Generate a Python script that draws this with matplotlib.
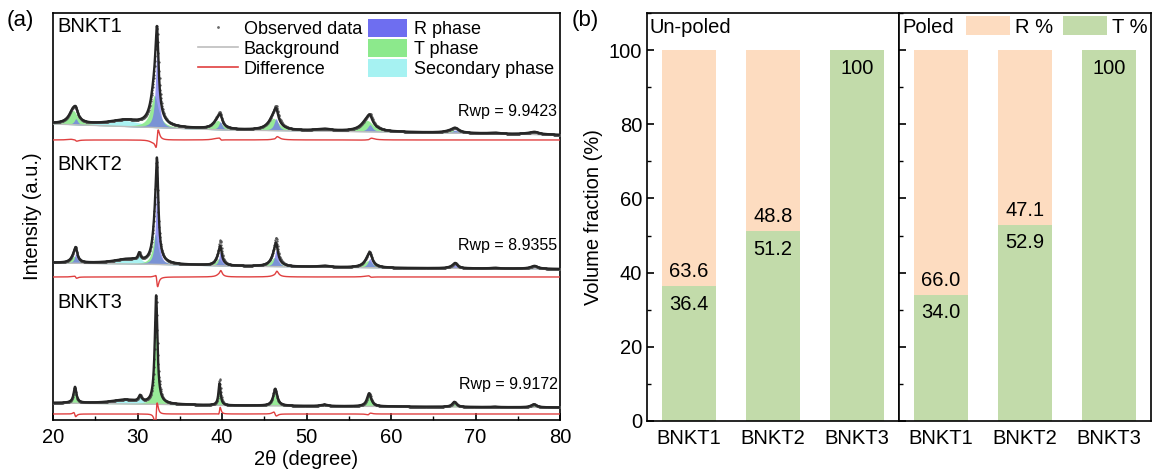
import numpy as np
import matplotlib.pyplot as plt
from matplotlib.lines import Line2D
from matplotlib.patches import Patch
from matplotlib.ticker import MultipleLocator

plt.rcParams['font.family'] = ['Liberation Sans', 'DejaVu Sans']
plt.rcParams['axes.linewidth'] = 1.2

# ---------------- (a) Rietveld refinement, peak tables ----------------
# perovskite reflections (2theta, deg)
PEAK_POS = [22.7, 32.3, 39.8, 46.4, 52.2, 57.5, 67.6, 72.4, 77.0]

# peak heights above background for R and T phase, FWHM of the R peaks,
# and how the observed peaks deviate from the fit (shift in deg, height ratio)
BNKT1_R = [6, 75, 8, 12, 0.8, 7, 3, 0.5, 1.5]
BNKT1_T = [14, 32, 9, 12, 1.2, 11, 2.5, 0.5, 1.2]
BNKT1_FWHM = [0.5, 0.45, 0.5, 0.6, 1.2, 0.7, 0.8, 0.8, 1.0]
BNKT1_OBS_SHIFT = [-0.04, 0.04, -0.04, 0.04, 0.0, 0.05, 0.0, 0.0, 0.0]
BNKT1_OBS_GAIN = [1.0, 1.0, 1.1, 1.1, 1.0, 1.05, 1.0, 1.0, 1.0]

BNKT2_R = [10, 82, 14, 16, 0.6, 9, 4, 0.4, 2.0]
BNKT2_T = [7, 30, 7, 9, 0.8, 7, 1.5, 0.4, 1.0]
BNKT2_FWHM = [0.4, 0.38, 0.4, 0.5, 0.9, 0.6, 0.6, 0.7, 0.8]
BNKT2_OBS_SHIFT = [-0.03, -0.02, 0.02, 0.03, 0.0, -0.03, 0.0, 0.0, 0.0]
BNKT2_OBS_GAIN = [1.0, 0.96, 1.3, 1.2, 1.0, 1.05, 1.0, 1.0, 1.0]

BNKT3_R = [0, 0, 0, 0, 0, 0, 0, 0, 0]
BNKT3_T = [16, 108, 22, 17, 1.5, 13, 5, 0.5, 3.0]
BNKT3_FWHM = [0.4, 0.38, 0.3, 0.55, 0.9, 0.6, 0.6, 0.7, 0.8]
BNKT3_OBS_SHIFT = [-0.04, 0.03, 0.03, -0.05, 0.0, 0.03, 0.0, 0.0, 0.0]
BNKT3_OBS_GAIN = [0.95, 1.0, 1.2, 1.0, 1.0, 1.0, 1.0, 1.0, 1.0]

# T phase: shift (deg) and broadening relative to R peaks
T_SHIFT = [-0.3, -0.2, -0.1]
T_BROAD = [2.4, 2.0, 1.0]

# secondary phase: broad hump (centre, height, fwhm) + small reflection (centre, height, fwhm)
SEC_HUMP = [(28.5, 6.0, 5.0), (28.8, 4.5, 4.0), (28.5, 4.0, 4.0)]
SEC_PEAK = [(30.3, 0.0, 0.3), (30.2, 7.0, 0.35), (30.3, 6.0, 0.4)]

# background anchors (2theta, level) per pattern, vertical offsets included
BG_X = [20, 30, 40, 60, 80]
BNKT1_BG = [296, 293, 290, 288, 285]
BNKT2_BG = [157, 156, 154, 152, 151]
BNKT3_BG = [17, 16, 14.5, 13.5, 12.5]
DIFF_LEVEL = [280, 143, 6]

RWP = ['9.9423', '8.9355', '9.9172']
NAMES = ['BNKT1', 'BNKT2', 'BNKT3']

# ---------------- (b) phase fractions ----------------
SAMPLES = ['BNKT1', 'BNKT2', 'BNKT3']
UNPOLED_T = [36.4, 51.2, 100]
UNPOLED_R = [63.6, 48.8, 0]
POLED_T = [34.0, 52.9, 100]
POLED_R = [66.0, 47.1, 0]

C_R = '#6e6ef0'
C_T = '#8ce98c'
C_SEC = '#a6f2f2'
C_RB = '#fddcc0'
C_TB = '#c2dbaa'
FS = 14.5


def lorentz(x, x0, h, fwhm):
    g = fwhm / 2.0
    return h / (1.0 + ((x - x0) / g) ** 2)


def phase(x, pos, heights, fwhm, shift=0.0, broad=1.0):
    y = np.zeros_like(x)
    for p, h, w in zip(pos, heights, fwhm):
        if h > 0:
            y += lorentz(x, p + shift, h, w * broad)
    return y


fig = plt.figure(figsize=(11.53, 4.70), dpi=100)
ax = fig.add_axes([0.046, 0.1064, 0.4397, 0.866])

tt = np.arange(20, 80.0001, 0.01)
pos = np.array(PEAK_POS)
tables = [
    (BNKT1_R, BNKT1_T, BNKT1_FWHM, BNKT1_OBS_SHIFT, BNKT1_OBS_GAIN, BNKT1_BG),
    (BNKT2_R, BNKT2_T, BNKT2_FWHM, BNKT2_OBS_SHIFT, BNKT2_OBS_GAIN, BNKT2_BG),
    (BNKT3_R, BNKT3_T, BNKT3_FWHM, BNKT3_OBS_SHIFT, BNKT3_OBS_GAIN, BNKT3_BG),
]

for i, (rh, th, fw, oshift, ogain, bgl) in enumerate(tables):
    bg = np.interp(tt, BG_X, bgl)
    R = phase(tt, pos, rh, fw)
    T = phase(tt, pos, th, fw, T_SHIFT[i], T_BROAD[i])
    S = lorentz(tt, *SEC_HUMP[i]) + lorentz(tt, *SEC_PEAK[i])
    calc = bg + R + T + S
    opos = pos + np.array(oshift)
    orh = np.array(rh) * np.array(ogain)
    oth = np.array(th) * np.array(ogain)
    obs = bg + phase(tt, opos, orh, fw) + phase(tt, opos, oth, fw, T_SHIFT[i], T_BROAD[i]) + S
    diff = obs - calc + DIFF_LEVEL[i]

    ax.fill_between(tt, bg, bg + S, color=C_SEC, alpha=0.95, lw=0, zorder=1)
    ax.fill_between(tt, bg, bg + T, color=C_T, alpha=0.9, lw=0, zorder=2)
    ax.fill_between(tt, bg, bg + R, color=C_R, alpha=0.7, lw=0, zorder=3)
    ax.plot(tt, bg, color='#bdbdbd', lw=1.0, zorder=4)
    ax.plot(tt[::4], obs[::4], ls='none', marker='.', ms=1.3, color='#555555', zorder=5)
    ax.plot(tt, calc, color='#262626', lw=1.7, zorder=6)
    ax.plot(tt, diff, color='#e04040', lw=1.0, zorder=5)

    ax.text(80.0 - 0.3, bgl[-1] + 23, 'Rwp = ' + RWP[i], ha='right', va='center', fontsize=11.5)

ax.text(20.5, 393, NAMES[0], ha='left', va='center', fontsize=FS)
ax.text(20.5, 255, NAMES[1], ha='left', va='center', fontsize=FS)
ax.text(20.5, 117, NAMES[2], ha='left', va='center', fontsize=FS)

ax.set_xlim(20, 80)
ax.set_ylim(0, 407)
ax.set_yticks([])
ax.xaxis.set_major_locator(MultipleLocator(10))
ax.xaxis.set_minor_locator(MultipleLocator(5))
ax.tick_params(axis='x', which='major', direction='in', length=5, width=1.2, labelsize=FS, pad=6)
ax.tick_params(axis='x', which='minor', direction='in', length=3, width=1.0)
ax.set_xlabel('2θ (degree)', fontsize=FS, labelpad=2)
ax.set_ylabel('Intensity (a.u.)', fontsize=FS, labelpad=8)

handles = [
    Line2D([], [], ls='none', marker='.', ms=2, color='#6a6a6a'),
    Line2D([], [], color='#bdbdbd', lw=1.2),
    Line2D([], [], color='#e04040', lw=1.2),
    Patch(facecolor=C_R, edgecolor='none'),
    Patch(facecolor=C_T, edgecolor='none'),
    Patch(facecolor=C_SEC, edgecolor='none'),
]
labels = ['Observed data', 'Background', 'Difference', 'R phase', 'T phase', 'Secondary phase']
ax.legend(handles, labels, ncol=2, loc='upper right', frameon=False, fontsize=13,
          handlelength=2.2, handleheight=1.15, labelspacing=0.05, columnspacing=0.3,
          handletextpad=0.35, borderaxespad=0.05, borderpad=0.3)

fig.text(0.006, 0.957, '(a)', fontsize=16, ha='left', va='center')
fig.text(0.496, 0.957, '(b)', fontsize=16, ha='left', va='center')

# ---------------- (b) stacked bars ----------------
axb1 = fig.add_axes([0.5611, 0.1043, 0.2186, 0.868])
axb2 = fig.add_axes([0.7797, 0.1043, 0.2186, 0.868], sharey=axb1)

x = np.arange(len(SAMPLES))
for axb, tv, rv, title in [(axb1, UNPOLED_T, UNPOLED_R, 'Un-poled'), (axb2, POLED_T, POLED_R, 'Poled')]:
    axb.bar(x, tv, width=0.64, color=C_TB, label='T %')
    axb.bar(x, rv, width=0.64, bottom=tv, color=C_RB, label='R %')
    for xi, t, r in zip(x, tv, rv):
        txt = f'{t:.0f}' if t >= 100 else f'{t:.1f}'
        axb.annotate(txt, (xi, t), xytext=(0, -13), textcoords='offset points',
                     ha='center', va='center', fontsize=FS)
        if r > 0:
            axb.annotate(f'{r:.1f}', (xi, t), xytext=(0, 10.5), textcoords='offset points',
                         ha='center', va='center', fontsize=FS)
    axb.set_xlim(-0.5, 2.5)
    axb.set_xticks(x)
    axb.set_xticklabels(SAMPLES)
    axb.tick_params(axis='x', length=0, labelsize=FS, pad=6)
    axb.text(0.012, 0.965, title, transform=axb.transAxes, ha='left', va='center', fontsize=FS)

axb1.set_ylim(0, 110)
axb1.yaxis.set_major_locator(MultipleLocator(20))
axb1.yaxis.set_minor_locator(MultipleLocator(10))
axb1.tick_params(axis='y', which='major', direction='in', length=5, width=1.2, labelsize=FS)
axb1.tick_params(axis='y', which='minor', direction='in', length=3, width=1.0)
axb1.set_ylabel('Volume fraction (%)', fontsize=FS, labelpad=4)
axb2.tick_params(axis='y', which='both', direction='in', labelleft=False)
axb2.tick_params(axis='y', which='major', length=5, width=1.2)
axb2.tick_params(axis='y', which='minor', length=3, width=1.0)

hb = [Patch(facecolor=C_RB, edgecolor='none'), Patch(facecolor=C_TB, edgecolor='none')]
axb2.legend(hb, ['R %', 'T %'], ncol=2, loc='upper right', frameon=False, fontsize=FS,
            handlelength=2.2, handleheight=1.1, columnspacing=0.5, handletextpad=0.25,
            borderaxespad=0.05, borderpad=0.1)

fig.savefig('out.png', dpi=100)
